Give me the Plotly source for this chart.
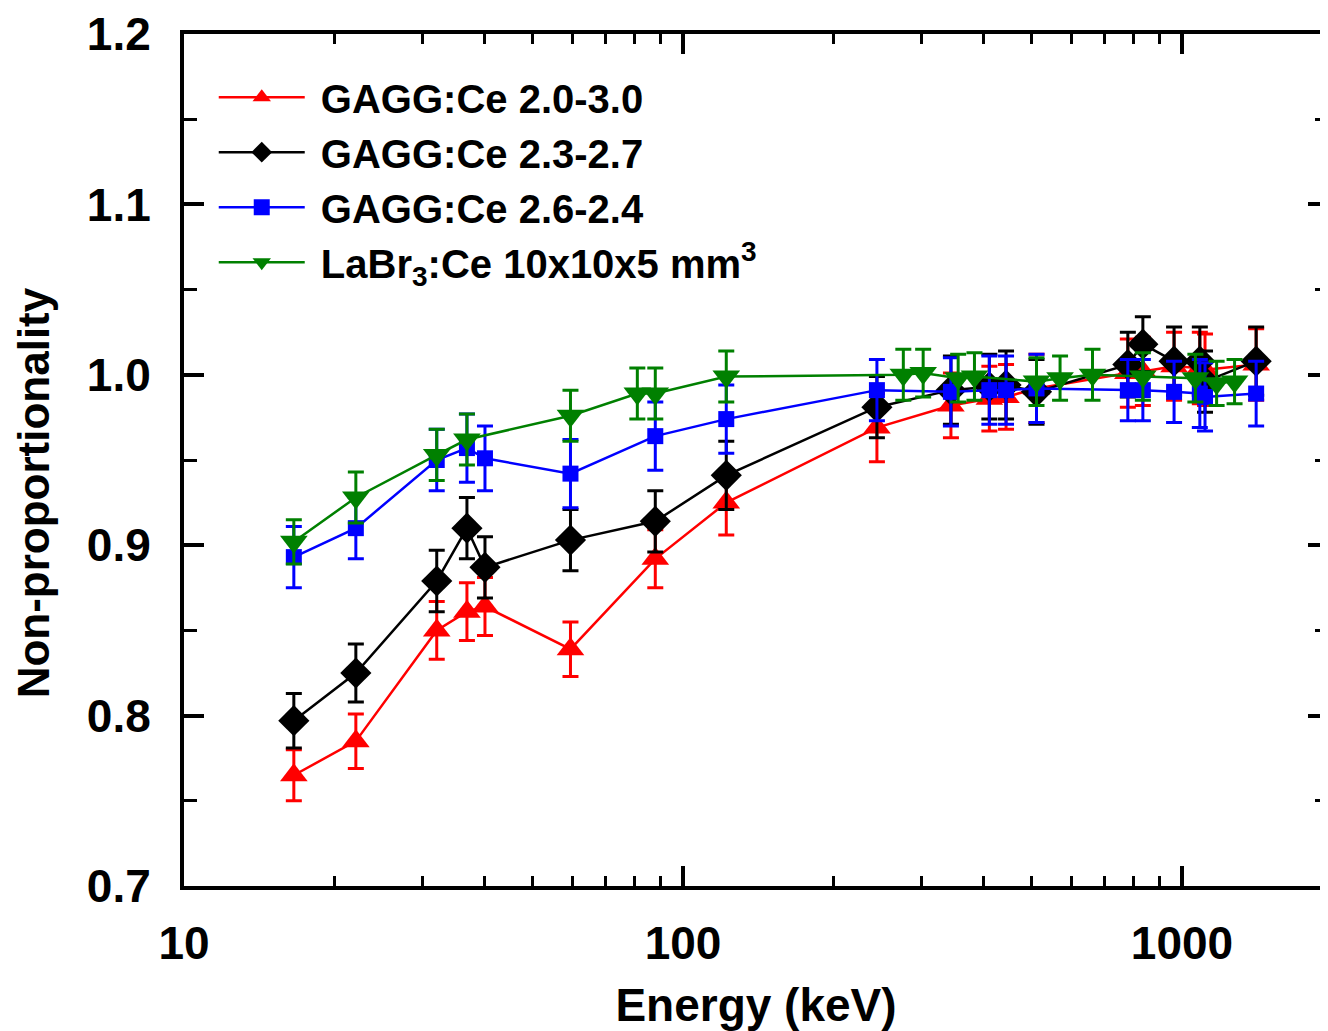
import plotly.graph_objects as go

# ---------------- data ----------------
E_gagg = [16.6, 22.1, 32.1, 36.9, 40.1, 59.5, 88.0, 122.1, 244.7, 344.3, 411.1, 444.0,
          511.0, 778.9, 834.8, 964.1, 1085.8, 1112.1, 1408.0]

red_y = [0.765, 0.785, 0.850, 0.861, 0.864, 0.839, 0.892, 0.925, 0.969, 0.982, 0.986, 0.987,
         0.992, 1.001, 1.002, 1.005, 1.004, 1.003, 1.006]
red_err = [0.015, 0.016, 0.017, 0.017, 0.017, 0.016, 0.017, 0.019, 0.020, 0.019, 0.019, 0.019,
           0.020, 0.020, 0.020, 0.020, 0.021, 0.021, 0.021]

black_y = [0.797, 0.825, 0.879, 0.910, 0.887, 0.903, 0.914, 0.941, 0.981, 0.991, 0.993, 0.994,
           0.990, 1.006, 1.018, 1.008, 1.008, 0.996, 1.008]
black_err = [0.016, 0.017, 0.018, 0.018, 0.018, 0.018, 0.018, 0.020, 0.018, 0.020, 0.019, 0.020,
             0.019, 0.019, 0.016, 0.020, 0.020, 0.018, 0.020]

blue_y = [0.893, 0.910, 0.950, 0.957, 0.951, 0.942, 0.964, 0.974, 0.991, 0.990, 0.991, 0.991,
          0.992, 0.991, 0.991, 0.990, 0.989, 0.987, 0.989]
blue_err = [0.018, 0.018, 0.018, 0.020, 0.019, 0.020, 0.020, 0.020, 0.018, 0.020, 0.020, 0.020,
            0.020, 0.018, 0.018, 0.018, 0.020, 0.020, 0.019]

E_labr = [16.6, 22.1, 32.1, 36.9, 59.5, 81.0, 88.0, 122.1, 276.4, 302.9, 356.0, 383.8,
          511.0, 569.7, 661.7, 834.8, 1063.7, 1173.2, 1274.5]
green_y = [0.902, 0.928, 0.953, 0.962, 0.976, 0.989, 0.989, 0.999, 1.000, 1.001, 0.998, 0.999,
           0.996, 0.998, 1.000, 0.999, 0.998, 0.995, 0.996]
green_err = [0.013, 0.015, 0.015, 0.015, 0.015, 0.015, 0.015, 0.015, 0.015, 0.014, 0.014, 0.014,
             0.014, 0.013, 0.015, 0.014, 0.014, 0.013, 0.013]

names = ["GAGG:Ce 2.0-3.0", "GAGG:Ce 2.3-2.7", "GAGG:Ce 2.6-2.4",
         "LaBr<sub>3</sub>:Ce 10x10x5 mm<sup>3</sup>"]

x_ticks = [10, 100, 1000]
y_ticks = [0.7, 0.8, 0.9, 1.0, 1.1, 1.2]
y_ticklabels = ["0.7", "0.8", "0.9", "1.0", "1.1", "1.2"]

x_title = "Energy (keV)"
y_title = "Non-proportionality"

# ---------------- figure ----------------
FONT = "Liberation Sans, Arial, sans-serif"

series = [
    (E_gagg, red_y, red_err, "#ff0000", "triangle-up", 24),
    (E_gagg, black_y, black_err, "#000000", "diamond", 24),
    (E_gagg, blue_y, blue_err, "#0000ff", "square", 16),
    (E_labr, green_y, green_err, "#008000", "triangle-down", 24),
]

fig = go.Figure()
for i, (xs, ys, es, col, sym, sz) in enumerate(series):
    fig.add_trace(go.Scatter(
        x=xs, y=ys, name="\u00a0" + names[i], mode="lines+markers",
        line=dict(color=col, width=2.5),
        marker=dict(color=col, symbol=sym, size=sz, line=dict(width=0)),
        error_y=dict(type="data", array=es, color=col, thickness=3, width=8),
        legendgroup=f"g{i}",
    ))

minor_x = [m * 10 ** k for k in (1, 2, 3) for m in range(2, 10)]
minor_x = [v for v in minor_x if v < 2000]

fig.update_layout(
    width=1320, height=1023,
    margin=dict(l=176, r=0, t=26, b=145),
    paper_bgcolor="white", plot_bgcolor="white",
    font=dict(family=FONT, color="black"),
    showlegend=True,
    legend=dict(
        x=0.026, y=0.964, xanchor="left", yanchor="top",
        font=dict(family=FONT, size=40, color="black", weight="bold"),
        itemwidth=86, tracegroupgap=0, bgcolor="rgba(0,0,0,0)",
        traceorder="grouped",
    ),
    xaxis=dict(
        type="log", range=[1, 3.2926],
        tickvals=x_ticks, ticktext=[str(v) for v in x_ticks],
        ticks="inside", ticklen=20, tickwidth=4, tickcolor="black",
        showline=True, linewidth=4, linecolor="black", mirror="allticks",
        showgrid=False, zeroline=False,
        minor=dict(tickvals=minor_x, ticks="inside", ticklen=10, tickwidth=3,
                   tickcolor="black", showgrid=False),
        tickfont=dict(family=FONT, size=46, color="black", weight="bold"),
        ticklabelstandoff=14,
        title=dict(text=x_title, standoff=26,
                   font=dict(family=FONT, size=46, color="black", weight="bold")),
        automargin=False,
    ),
    yaxis=dict(
        range=[0.7, 1.2],
        tickvals=y_ticks, ticktext=y_ticklabels,
        ticks="inside", ticklen=20, tickwidth=4, tickcolor="black",
        showline=True, linewidth=4, linecolor="black", mirror="allticks",
        showgrid=False, zeroline=False,
        minor=dict(dtick=0.05, ticks="inside", ticklen=13, tickwidth=3,
                   tickcolor="black", showgrid=False),
        tickfont=dict(family=FONT, size=46, color="black", weight="bold"),
        ticklabelstandoff=20,
        automargin=False,
    ),
    annotations=[dict(
        text=y_title, textangle=-90, showarrow=False,
        xref="paper", yref="paper", x=-0.132, y=0.462,
        xanchor="center", yanchor="middle",
        font=dict(family=FONT, size=44, color="black", weight="bold"),
    )],
)

fig.write_html("out.html")
